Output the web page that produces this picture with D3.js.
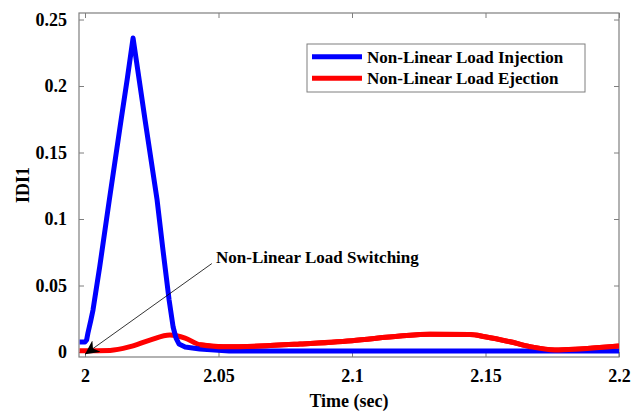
<!DOCTYPE html>
<html>
<head>
<meta charset="utf-8">
<script src="https://cdn.jsdelivr.net/npm/d3@7"></script>
<style>
  body { margin: 0; background: #fff; }
  svg text { font-family: "Liberation Serif", "Times New Roman", serif; font-weight: bold; fill: #000; }
</style>
</head>
<body>
<div id="chart"></div>
<script>
/* DATA */
const injectionTime = [1.998, 2.0, 2.0006, 2.0011, 2.0022, 2.003, 2.0055, 2.0091, 2.0135, 2.0158, 2.018,
  2.0225, 2.027, 2.0292, 2.0315, 2.033, 2.0341, 2.0352, 2.0375, 2.043, 2.054, 2.2];
const injectionValue = [0.0075, 0.0075, 0.009, 0.0143, 0.024, 0.0316, 0.064, 0.1143, 0.1744, 0.205, 0.2361,
  0.1744, 0.1143, 0.0767, 0.0391, 0.0188, 0.0105, 0.006, 0.0038, 0.0023, 0.0008, 0.0008];

const ejectionTime = [1.998, 2.0, 2.0094, 2.0169, 2.0243, 2.0318, 2.0375, 2.043, 2.0517, 2.0655, 2.0805,
  2.1, 2.118, 2.1292, 2.1442, 2.1498, 2.1592, 2.1667, 2.176, 2.1854, 2.2];
const ejectionValue = [0.001, 0.001, 0.0012, 0.004, 0.009, 0.0128, 0.0105, 0.0055, 0.004, 0.0045, 0.006,
  0.0085, 0.012, 0.0133, 0.0131, 0.0115, 0.0077, 0.004, 0.0015, 0.0023, 0.0045];

const xTicks = [2, 2.05, 2.1, 2.15, 2.2];
const yTicks = [0, 0.05, 0.1, 0.15, 0.2, 0.25];
const seriesNames = ["Non-Linear Load Injection", "Non-Linear Load Ejection"];
const seriesColors = ["#0000ff", "#ff0000"];

/* LAYOUT */
const width = 643, height = 415;
const margin = { top: 13, right: 24, bottom: 58, left: 79 };

const svg = d3.select("#chart").append("svg")
  .attr("width", width)
  .attr("height", height);

const xScale = d3.scaleLinear()
  .domain([1.99775, 2.2])
  .range([margin.left, width - margin.right]);

const yScale = d3.scaleLinear()
  .domain([-0.00376, 0.2549])
  .range([height - margin.bottom, margin.top]);

const x0 = margin.left, x1 = width - margin.right;
const y0 = height - margin.bottom, y1 = margin.top;
const frameColor = "#7f7f7f";

// clip for lines
svg.append("clipPath").attr("id", "plotclip")
  .append("rect")
  .attr("x", x0).attr("y", y1)
  .attr("width", x1 - x0).attr("height", y0 - y1);

// axes with inward ticks (bottom/left) and mirrored ticks (top/right)
const styleAxis = g => {
  g.select(".domain").remove();
  g.selectAll(".tick line").attr("stroke", frameColor);
  g.selectAll(".tick text").style("font-size", "18px");
};

svg.append("g")
  .attr("transform", `translate(0,${y0})`)
  .call(d3.axisBottom(xScale).tickValues(xTicks).tickSize(-5).tickPadding(12).tickFormat(d3.format("")))
  .call(styleAxis);

svg.append("g")
  .attr("transform", `translate(0,${y1})`)
  .call(d3.axisTop(xScale).tickValues(xTicks).tickSize(-5).tickFormat(""))
  .call(styleAxis);

svg.append("g")
  .attr("transform", `translate(${x0},0)`)
  .call(d3.axisLeft(yScale).tickValues(yTicks).tickSize(-5).tickPadding(12).tickFormat(d3.format("")))
  .call(styleAxis);

svg.append("g")
  .attr("transform", `translate(${x1},0)`)
  .call(d3.axisRight(yScale).tickValues(yTicks).tickSize(-5).tickFormat(""))
  .call(styleAxis);

// frame
svg.append("rect")
  .attr("x", x0).attr("y", y1)
  .attr("width", x1 - x0).attr("height", y0 - y1)
  .attr("fill", "none")
  .attr("stroke", frameColor)
  .attr("stroke-width", 1.2);

// + LINES
const injection = injectionTime.map((t, i) => ({ t, v: injectionValue[i] }));
const ejection = ejectionTime.map((t, i) => ({ t, v: ejectionValue[i] }));

const lineLinear = d3.line().x(d => xScale(d.t)).y(d => yScale(d.v));
const lineSmooth = d3.line().x(d => xScale(d.t)).y(d => yScale(d.v)).curve(d3.curveMonotoneX);

svg.append("path")
  .datum(ejection)
  .attr("clip-path", "url(#plotclip)")
  .attr("fill", "none")
  .attr("stroke", seriesColors[1])
  .attr("stroke-width", 5)
  .attr("d", lineSmooth);

svg.append("path")
  .datum(injection)
  .attr("clip-path", "url(#plotclip)")
  .attr("fill", "none")
  .attr("stroke", seriesColors[0])
  .attr("stroke-width", 5)
  .attr("stroke-linejoin", "round")
  .attr("d", lineLinear);

// red lies on top of blue after the switching transient
svg.append("path")
  .datum(ejection.filter(d => d.t >= 2.04))
  .attr("clip-path", "url(#plotclip)")
  .attr("fill", "none")
  .attr("stroke", seriesColors[1])
  .attr("stroke-width", 5)
  .attr("d", lineSmooth);

// + ANNOTATION
svg.append("defs").append("marker")
  .attr("id", "arrow")
  .attr("viewBox", "0 0 10 10")
  .attr("refX", 10).attr("refY", 5)
  .attr("markerWidth", 14).attr("markerHeight", 14)
  .attr("markerUnits", "userSpaceOnUse")
  .attr("orient", "auto")
  .append("path")
  .attr("d", "M0,0 L10,5 L0,10 L3,5 Z")
  .attr("fill", "#000");

svg.append("line")
  .attr("x1", xScale(2.0475)).attr("y1", yScale(0.0665))
  .attr("x2", xScale(2.0)).attr("y2", yScale(-0.0017))
  .attr("stroke", "#000")
  .attr("stroke-width", 0.8)
  .attr("marker-end", "url(#arrow)");

svg.append("text")
  .attr("x", 216).attr("y", 263)
  .style("font-size", "17px")
  .text("Non-Linear Load Switching");

// + LEGEND
const legend = svg.append("g");
legend.append("rect")
  .attr("x", 307).attr("y", 44)
  .attr("width", 278).attr("height", 48)
  .attr("fill", "#fff")
  .attr("stroke", frameColor)
  .attr("stroke-width", 1);

seriesNames.forEach((name, i) => {
  const yy = 56.7 + i * 21.6;
  legend.append("line")
    .attr("x1", 312).attr("x2", 362)
    .attr("y1", yy).attr("y2", yy)
    .attr("stroke", seriesColors[i])
    .attr("stroke-width", 5);
  legend.append("text")
    .attr("x", 367).attr("y", yy + 6)
    .style("font-size", "17px")
    .text(name);
});

// + AXIS TITLES
svg.append("text")
  .attr("x", (x0 + x1) / 2).attr("y", 407)
  .attr("text-anchor", "middle")
  .style("font-size", "18px")
  .text("Time (sec)");

svg.append("text")
  .attr("transform", `translate(29,${(y0 + y1) / 2}) rotate(-90)`)
  .attr("text-anchor", "middle")
  .style("font-size", "18px")
  .text("IDI1");
</script>
</body>
</html>
